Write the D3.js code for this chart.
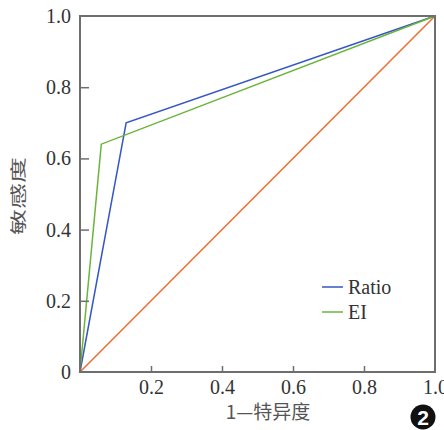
<!DOCTYPE html>
<html>
<head>
<meta charset="utf-8">
<script src="https://cdn.jsdelivr.net/npm/d3@7"></script>
<style>
  body { margin: 0; background: #fff; }
  svg { display: block; }
</style>
</head>
<body>
<div id="chart"></div>
<script>
// ROC data
var ratioFpr = [0, 0.13, 1];
var ratioTpr = [0, 0.70, 1];
var eiFpr = [0, 0.06, 1];
var eiTpr = [0, 0.64, 1];
var refLine = [0, 1];
var tickVals = [0, 0.2, 0.4, 0.6, 0.8, 1.0];
var tickLabels = ["0", "0.2", "0.4", "0.6", "0.8", "1.0"];
var seriesNames = ["Ratio", "EI"];

var width = 444, height = 430;
var plotLeft = 80, plotRight = 435, plotTop = 16, plotBottom = 372;
var serif = "'Liberation Serif', 'DejaVu Serif', serif";
var cjk = "'Noto Sans CJK SC', sans-serif";

var svg = d3.select("#chart").append("svg")
    .attr("width", width)
    .attr("height", height);

var x = d3.scaleLinear().domain([0, 1]).range([plotLeft, plotRight]);
var y = d3.scaleLinear().domain([0, 1]).range([plotBottom, plotTop]);

var line = d3.line()
    .x(function(d) { return x(d[0]); })
    .y(function(d) { return y(d[1]); });

// diagonal reference
svg.append("path")
    .attr("d", line(refLine.map(function(v) { return [v, v]; })))
    .attr("fill", "none")
    .attr("stroke", "#f26a2e")
    .attr("stroke-width", 1.5);

var series = [
  {name: seriesNames[0], fpr: ratioFpr, tpr: ratioTpr, color: "#3556c4"},
  {name: seriesNames[1], fpr: eiFpr, tpr: eiTpr, color: "#6ab43a"}
];

series.forEach(function(s) {
  svg.append("path")
      .attr("d", line(s.fpr.map(function(v, i) { return [v, s.tpr[i]]; })))
      .attr("fill", "none")
      .attr("stroke", s.color)
      .attr("stroke-width", 1.5);
});

// frame
svg.append("rect")
    .attr("x", plotLeft).attr("y", plotTop)
    .attr("width", plotRight - plotLeft).attr("height", plotBottom - plotTop)
    .attr("fill", "none")
    .attr("stroke", "#6e6e6e")
    .attr("stroke-width", 2);

// x axis, ticks pointing inward
var xAxis = svg.append("g")
    .attr("transform", "translate(0," + plotBottom + ")")
    .call(d3.axisBottom(x).tickValues(tickVals)
        .tickSizeInner(-6).tickSizeOuter(0).tickPadding(8)
        .tickFormat(function(d, i) { return tickLabels[i]; }));

var yAxis = svg.append("g")
    .attr("transform", "translate(" + plotLeft + ",0)")
    .call(d3.axisLeft(y).tickValues(tickVals)
        .tickSizeInner(-9).tickSizeOuter(0).tickPadding(9)
        .tickFormat(function(d, i) { return tickLabels[i]; }));

[xAxis, yAxis].forEach(function(g) {
  g.attr("font-family", serif).attr("font-size", 20);
  g.select(".domain").remove();
  g.selectAll("line").attr("stroke", "#6e6e6e").attr("stroke-width", 1.5);
  g.selectAll("text").attr("fill", "#333");
});
xAxis.selectAll(".tick").filter(function(d) { return d === 0 || d === 1; })
    .select("line").remove();
yAxis.selectAll(".tick").filter(function(d) { return d === 0 || d === 1; })
    .select("line").remove();
xAxis.selectAll(".tick").filter(function(d) { return d === 0; }).remove();

// axis titles
svg.append("text")
    .attr("x", 268).attr("y", 419)
    .attr("text-anchor", "middle")
    .attr("fill", "#555")
    .style("font-family", cjk)
    .style("font-size", "19px")
    .text("1—特异度");

svg.append("text")
    .attr("transform", "translate(24,196) rotate(-90) scale(1.3,0.8)")
    .attr("text-anchor", "middle")
    .attr("fill", "#555")
    .style("font-family", cjk)
    .style("font-size", "20px")
    .text("敏感度");

// legend
var legend = svg.append("g").attr("transform", "translate(322,287)");
series.forEach(function(s, i) {
  var row = legend.append("g").attr("transform", "translate(0," + (i * 25) + ")");
  row.append("line")
      .attr("x1", 0).attr("x2", 21)
      .attr("stroke", s.color).attr("stroke-width", 1.5);
  row.append("text")
      .attr("x", 26).attr("dy", "0.35em")
      .attr("fill", "#333")
      .style("font-family", serif)
      .style("font-size", "20px")
      .text(s.name);
});

// panel badge
svg.append("circle")
    .attr("cx", 423).attr("cy", 417).attr("r", 12.5)
    .attr("fill", "#111");
svg.append("text")
    .attr("x", 423).attr("y", 417).attr("dy", "0.36em")
    .attr("text-anchor", "middle")
    .attr("fill", "#fff")
    .style("font-family", "'Liberation Sans', sans-serif")
    .style("font-weight", "bold")
    .style("font-size", "21px")
    .text("2");
</script>
</body>
</html>
